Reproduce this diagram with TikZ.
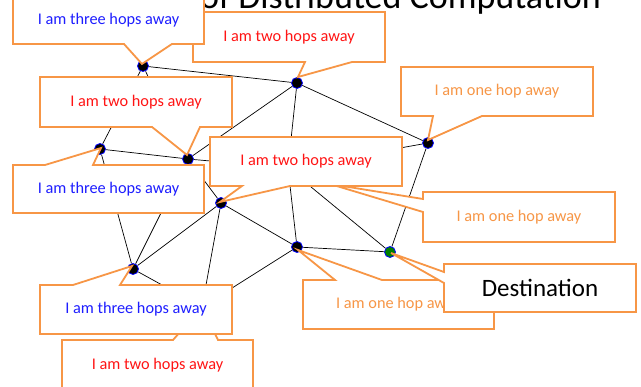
\documentclass[tikz,border=0pt]{standalone}
\usepackage{fontspec}
\setmainfont{Carlito}
\definecolor{corange}{RGB}{247,150,70}
\definecolor{cblue}{RGB}{30,30,255}
\definecolor{cred}{RGB}{255,20,20}
\definecolor{cnodeblue}{RGB}{0,0,255}
\definecolor{cgreen}{RGB}{0,128,0}
\begin{document}
\begin{tikzpicture}[x=1pt,y=-1pt,
  gnode/.style={circle, fill=black, draw=cnodeblue, line width=0.8pt, minimum size=11pt, inner sep=0pt},
  dnode/.style={gnode, fill=cgreen},
  link/.style={draw=black, line width=0.7pt},
  callout/.style={draw=corange, fill=white, line width=1.8pt, line join=miter},
  ctext/.style={font=\fontsize{16.3}{19}\selectfont, inner sep=0pt},
  three/.style={ctext, text=cblue},
  two/.style={ctext, text=cred},
  one/.style={ctext, text=corange}]
\useasboundingbox (0,0) rectangle (641,387);
\clip (0,0) rectangle (641,387);
\fill[white] (0,0) rectangle (641,387);

% title (cut off at top)
\node[anchor=base west, inner sep=0pt, font=\fontsize{36}{40}\selectfont] (title) at (200,9) {of Distributed Computation};

% graph nodes
\node[gnode] (n1) at (143,66) {};
\node[gnode] (n2) at (297,83) {};
\node[gnode] (n3) at (428,143) {};
\node[gnode] (n4) at (100,149) {};
\node[gnode] (n5) at (188,159) {};
\node[gnode] (n6) at (221,203) {};
\node[gnode] (n7) at (297,247) {};
\node[dnode] (n8) at (390,252) {};
\node[gnode] (n9) at (133,269) {};
\coordinate (h1) at (288,168);
\coordinate (h2) at (202,307);

% edges
\draw[link] (n1) -- (n2);
\draw[link] (n1) -- (n4);
\draw[link] (n1) -- (n5);
\draw[link] (n2) -- (n5);
\draw[link] (n2) -- (n3);
\draw[link] (n2) -- (h1);
\draw[link] (n4) -- (n5);
\draw[link] (n4) -- (n9);
\draw[link] (n5) -- (n9);
\draw[link] (n5) -- (n6);
\draw[link] (n5) -- (h1);
\draw[link] (n6) -- (n9);
\draw[link] (n6) -- (n7);
\draw[link] (n6) -- (h2);
\draw[link] (n9) -- (h2);
\draw[link] (n7) -- (h2);
\draw[link] (h1) -- (n7);
\draw[link] (h1) -- (n8);
\draw[link] (h1) -- (n3);
\draw[link] (n7) -- (n8);
\draw[link] (n3) -- (n8);

% pointer tips
\coordinate (p1) at (142,64);
\coordinate (p2) at (298,77);
\coordinate (p3) at (428,140);
\coordinate (p4) at (101,148);
\coordinate (p5) at (187,155);
\coordinate (p6) at (330,184);
\coordinate (p7) at (220,202);
\coordinate (p8) at (132,266);
\coordinate (p9) at (202,307);
\coordinate (p10) at (298,250);
\coordinate (p11) at (391,253);

% bottom "two hops" (under the three hops box)
\path[callout] (62,340) -- (173,340) -- (p9) -- (218,340) -- (253,340) -- (253,392) -- (62,392) -- cycle;
\node[two] (t9) at (157.5,365) {I am two hops away};
% bottom-left "three hops" (N9)
\path[callout] (40,285) -- (73,285) -- (p8) -- (120,285) -- (232,285) -- (232,334) -- (40,334) -- cycle;
\node[three] (t8) at (136,309.5) {I am three hops away};

% top "two hops" (N2)
\path[callout] (193,12) -- (385,12) -- (385,62) -- (352,62) -- (p2) -- (305,62) -- (193,62) -- cycle;
\node[two] (t2) at (289,37) {I am two hops away};
% top-left "three hops" (N1)
\path[callout] (13,-4) -- (204,-4) -- (204,44) -- (172,44) -- (p1) -- (124,44) -- (13,44) -- cycle;
\node[three] (t1) at (108.5,20) {I am three hops away};

% top-right "one hop" (N3)
\path[callout] (401,67) -- (593,67) -- (593,116) -- (482,116) -- (p3) -- (433,116) -- (401,116) -- cycle;
\node[one] (t3) at (497,91.5) {I am one hop away};

% "two hops" (N5)
\path[callout] (40,77) -- (232,77) -- (232,127) -- (200,127) -- (p5) -- (152,127) -- (40,127) -- cycle;
\node[two] (t5) at (136,102) {I am two hops away};

% "three hops" (N4)
\path[callout] (13,165) -- (45,165) -- (p4) -- (93,165) -- (204,165) -- (204,213) -- (13,213) -- cycle;
\node[three] (t4) at (108.5,189) {I am three hops away};

% middle-right "one hop"
\path[callout] (423,192) -- (615,192) -- (615,242) -- (423,242) -- (423,212) -- (p6) -- (423,199) -- cycle;
\node[one] (t6) at (519,217) {I am one hop away};

% "two hops" (N6)
\path[callout] (210,137) -- (402,137) -- (402,186) -- (290,186) -- (p7) -- (242,186) -- (210,186) -- cycle;
\node[two] (t7) at (306,161.5) {I am two hops away};

% bottom "one hop" (N7)
\path[callout] (303,280) -- (335,280) -- (p10) -- (382,280) -- (494,280) -- (494,329) -- (303,329) -- cycle;
\node[one] (t10) at (398.5,304.5) {I am one hop away};

% Destination (N8)
\path[callout] (444,264) -- (636,264) -- (636,312) -- (444,312) -- (444,283) -- (p11) -- (444,272) -- cycle;
\node[ctext, font=\fontsize{25}{30}\selectfont, text=black] (t11) at (540,288) {Destination};
\end{tikzpicture}
\end{document}
